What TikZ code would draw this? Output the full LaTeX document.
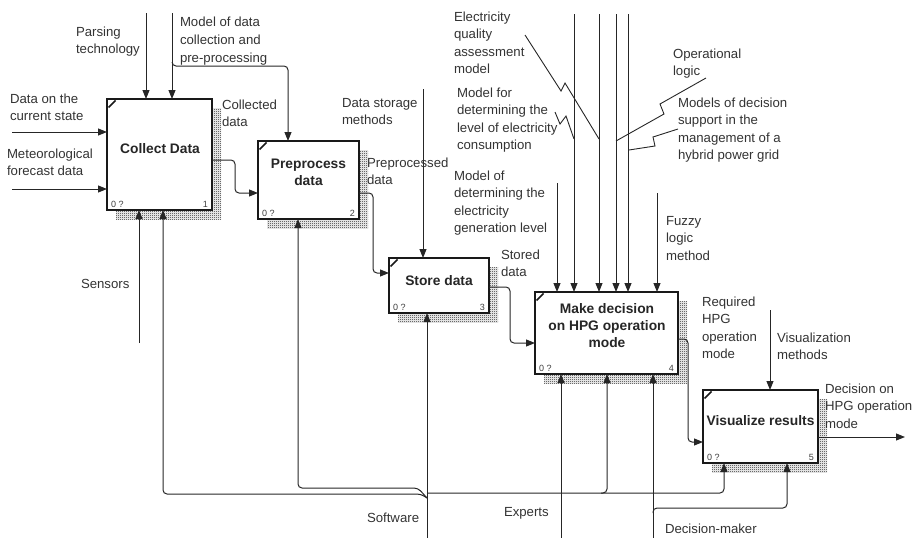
\documentclass[tikz,border=0pt]{standalone}
\usepackage{fontspec}
\setmainfont{Liberation Sans}
\usetikzlibrary{arrows.meta,patterns,calc}
\pgfdeclarepatternformonly{idefshade}{\pgfqpoint{0pt}{0pt}}{\pgfqpoint{2pt}{2pt}}{\pgfqpoint{2pt}{2pt}}{%
  \pgfpathrectangle{\pgfqpoint{0pt}{0pt}}{\pgfqpoint{1pt}{1pt}}%
  \pgfpathrectangle{\pgfqpoint{1pt}{1pt}}{\pgfqpoint{1pt}{1pt}}%
  \pgfusepath{fill}}
\newcommand\idefbox[6]{%
  \fill[pattern=idefshade,pattern color=black!90] (#2+9,#3+9) rectangle (#4+9,#5+9);
  \node[box,minimum width={#4-#2},minimum height={#5-#3}] (#1) at (#2,#3) {};
  \draw[line width=1.7pt,black!90] ([shift={(1.5,8.5)}]#1.north west) -- ([shift={(8.5,1.5)}]#1.north west);
  \node[num,anchor=base west] (#1z) at ([shift={(4,-3)}]#1.south west) {0 ?};
  \node[num,anchor=base east] (#1n) at ([shift={(-4,-3)}]#1.south east) {#6};
}
\begin{document}
\begin{tikzpicture}[x=1pt,y=-1pt,
  lbl/.style={anchor=north west,yshift=12.32pt,inner sep=0pt,outer sep=0pt,align=left,font=\fontsize{13.2}{17.6}\selectfont,text=black!80},
  box/.style={draw=black!90,line width=2pt,fill=white,anchor=north west,inner sep=0pt,outer sep=0pt},
  ttl/.style={anchor=north,yshift=12.11pt,inner sep=0pt,align=center,font=\fontsize{13.8}{17.3}\selectfont\bfseries,text=black!85},
  num/.style={inner sep=0pt,font=\fontsize{9}{9}\selectfont,text=black!75},
  arr/.style={line width=1pt,draw=black!85,rounded corners=4pt,-{Triangle[length=9pt,width=7pt]}},
  leader/.style={line width=0.9pt,draw=black!85},
]
\useasboundingbox (0,0) rectangle (919,538);

% ---------- boxes ----------
\idefbox{b1}{107}{99}{212}{210}{1}
\idefbox{b2}{258}{141}{359}{219}{2}
\idefbox{b3}{389}{258}{489}{313}{3}
\idefbox{b4}{535}{292}{678}{374}{4}
\idefbox{b5}{703}{390}{818}{463}{5}

\node[ttl] (t1) at (160,153) {\strut Collect Data};
\node[ttl] (t2) at (308.5,168) {\strut Preprocess\\data};
\node[ttl] (t3) at (439,285) {\strut Store data};
\node[ttl] (t4) at (607,313) {\strut Make decision\\on HPG operation\\mode};
\node[ttl] (t5) at (760.5,425) {\strut Visualize results};

% ---------- coordinates ----------
\coordinate (pt) at (146,13);
\coordinate (md) at (172,13);
\coordinate (mdj) at (172,62);
\coordinate (mdb) at (288,66);
\coordinate (in1) at (12,132);
\coordinate (in2) at (12,189);
\coordinate (ds) at (423,89);
\coordinate (c41) at (557,183);
\coordinate (c42) at (574,14);
\coordinate (c43) at (599,14);
\coordinate (c44) at (616,14);
\coordinate (c45) at (628,14);
\coordinate (c46) at (657,193);
\coordinate (vm) at (770,310);
\coordinate (outR) at (905,437);
\coordinate (sen) at (139,343);
\coordinate (sw) at (427,538);
\coordinate (swj) at (427,498);
\coordinate (sw1) at (163,494);
\coordinate (sw2) at (298,488);
\coordinate (sw4) at (607,493);
\coordinate (sw5) at (724,493);
\coordinate (ex) at (561,538);
\coordinate (dm) at (653,538);
\coordinate (dm5) at (787,508);

% ---------- controls ----------
\draw[arr] (pt) -- (pt |- b1.north);
\draw[arr] (md) -- (md |- b1.north);
\draw[arr] (mdj) |- (mdb) -- (mdb |- b2.north);
\draw[arr] (ds) -- (ds |- b3.north);
\foreach \c in {c41,c42,c43,c44,c45,c46} \draw[arr] (\c) -- (\c |- b4.north);
\draw[arr] (vm) -- (vm |- b5.north);

% ---------- inputs / outputs ----------
\draw[arr] (in1) -- (in1 -| b1.west);
\draw[arr] (in2) -- (in2 -| b1.west);
\draw[arr] ([yshift=-5.5pt]b1.east) -- ++(23,0) |- ([yshift=-13pt]b2.west);
\draw[arr] ([yshift=-13pt]b2.east) -- ++(14,0) |- ([yshift=12.5pt]b3.west);
\draw[arr] ([yshift=-1.5pt]b3.east) -- ++(21,0) |- ([yshift=-10pt]b4.west);
\draw[arr] ([yshift=-6pt]b4.east) -- ++(10,0) |- ([yshift=-15.5pt]b5.west);
\draw[arr] ([yshift=-10.5pt]b5.east) -- (outR);

% ---------- mechanisms ----------
\draw[arr] (sen) -- (sen |- b1.south);
\draw[arr] (sw) -- (sw |- b3.south);
\draw[arr] (swj) -- ++(-6,-4) -- (sw1) -- (sw1 |- b1.south);
\draw[arr] (swj) -- ++(-9,-10) -- (sw2) -- (sw2 |- b2.south);
\draw[arr] (sw |- sw5) -- (sw5) -- (sw5 |- b5.south);
\draw[arr] ($(sw4)+(-6,0)$) -- (sw4) -- (sw4 |- b4.south);
\draw[arr] (ex) -- (ex |- b4.south);
\draw[arr] (dm) -- (dm |- b4.south);
\draw[arr] ($(dm |- dm5)+(0,5)$) -- (dm |- dm5) -- (dm5) -- (dm5 |- b5.south);

% ---------- leaders ----------
\draw[leader] (525,35) -- (561,91) -- (565,83) -- (599,139);
\draw[leader] (555,112) -- (560,124) -- (566,116) -- (574,139);
\draw[leader] (706,78) -- (660,104) -- (664,114) -- (616,141);
\draw[leader] (678,129) -- (653,137) -- (655,146) -- (629,150);

% ---------- labels ----------
\node[lbl] (l1) at (76,36) {\strut Parsing\\technology};
\node[lbl] (l2) at (180,27) {\strut Model of data\\collection and\\pre-processing};
\node[lbl] (l3) at (10,103) {\strut Data on the\\current state};
\node[lbl] (l4) at (7,158) {\strut Meteorological\\forecast data};
\node[lbl] (l5) at (222,109) {\strut Collected\\data};
\node[lbl] (l6) at (367,167) {\strut Preprocessed\\data};
\node[lbl] (l7) at (342,107) {\strut Data storage\\methods};
\node[lbl] (l8) at (454,21) {\strut Electricity\\quality\\assessment\\model};
\node[lbl] (l9) at (457,97) {\strut Model for\\determining the\\level of electricity\\consumption};
\node[lbl] (l10) at (673,58) {\strut Operational\\logic};
\node[lbl] (l11) at (678,107) {\strut Models of decision\\support in the\\management of a\\hybrid power grid};
\node[lbl] (l12) at (454,180) {\strut Model of\\determining the\\electricity\\generation level};
\node[lbl] (l13) at (501,259) {\strut Stored\\data};
\node[lbl] (l14) at (666,225) {\strut Fuzzy\\logic\\method};
\node[lbl] (l15) at (702,306) {\strut Required\\HPG\\operation\\mode};
\node[lbl] (l16) at (777,342) {\strut Visualization\\methods};
\node[lbl] (l17) at (825,393) {\strut Decision on\\HPG operation\\mode};
\node[lbl] (l18) at (81,288) {\strut Sensors};
\node[lbl] (l19) at (367,522) {\strut Software};
\node[lbl] (l20) at (504,516) {\strut Experts};
\node[lbl] (l21) at (665,533) {\strut Decision-maker};
\end{tikzpicture}
\end{document}
